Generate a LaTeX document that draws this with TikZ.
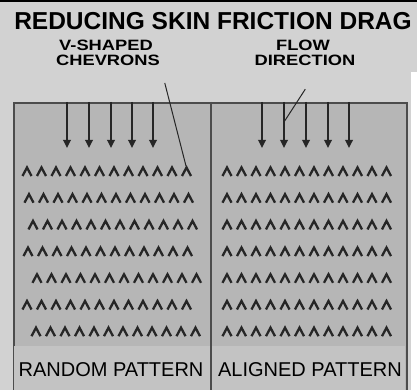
\documentclass[tikz,border=0pt]{standalone}
\usepackage{fontspec}
\setmainfont{Liberation Sans}
\newfontfamily\widefont[FakeStretch=1.22]{Liberation Sans}
\usetikzlibrary{arrows.meta}
\definecolor{paper}{HTML}{D2D2D2}
\definecolor{panel}{HTML}{B6B6B6}
\definecolor{ink}{HTML}{262626}

\begin{document}
\begin{tikzpicture}[
x=1pt,y=-1pt,
flowarrow/.style={ink,line width=1.7pt,-{Triangle[width=7.5pt,length=8pt]}},
chevron/.style={ink,line width=2.3pt,line join=miter,line cap=butt},
leader/.style={ink,line width=1pt},
labelfont/.style={inner sep=0.5pt,font=\widefont\bfseries\fontsize{15}{16}\selectfont},
panelfont/.style={font=\fontsize{20}{22}\selectfont}
]

\useasboundingbox (0,0) rectangle (417,390);
\clip (0,0) rectangle (417,390);

%%%%%%%%%%%%%%%%%%%%%%%%%%%%%%%%%%%%%%%%%%%%%%%%%%%%%%%%%%%%%%
% BACKGROUND
%%%%%%%%%%%%%%%%%%%%%%%%%%%%%%%%%%%%%%%%%%%%%%%%%%%%%%%%%%%%%%

\fill[paper] (0,0) rectangle (417,390);
\fill[white] (411,72) rectangle (417,390);
\fill[black] (0,0) rectangle (417,2.5);

%%%%%%%%%%%%%%%%%%%%%%%%%%%%%%%%%%%%%%%%%%%%%%%%%%%%%%%%%%%%%%
% TITLE AND LABELS
%%%%%%%%%%%%%%%%%%%%%%%%%%%%%%%%%%%%%%%%%%%%%%%%%%%%%%%%%%%%%%

\node[font=\bfseries\fontsize{24.5}{26}\selectfont]
(title) at (213,21)
{REDUCING SKIN FRICTION DRAG};

\node[labelfont] (shapelabel) at (106,45) {V-SHAPED};
\node[labelfont] (chevlabel) at (108,60.5) {CHEVRONS};

\node[labelfont] (flowlabel) at (303,45) {FLOW};
\node[labelfont] (dirlabel) at (305,60.5) {DIRECTION};

%%%%%%%%%%%%%%%%%%%%%%%%%%%%%%%%%%%%%%%%%%%%%%%%%%%%%%%%%%%%%%
% SURFACE PANELS
%%%%%%%%%%%%%%%%%%%%%%%%%%%%%%%%%%%%%%%%%%%%%%%%%%%%%%%%%%%%%%

\node[
draw=black!70,
line width=2pt,
fill=panel,
inner sep=0pt,
minimum width=393pt,
minimum height=300pt,
anchor=north west
](board)
at (13,102)
{};

\fill[panel!55!paper] (14,346) rectangle (405,390);

\draw[black!70,line width=2pt] (board.north) -- (board.south);

\node[panelfont] (randomlabel) at (111,370) {RANDOM PATTERN};
\node[panelfont] (alignedlabel) at (310,370) {ALIGNED PATTERN};

%%%%%%%%%%%%%%%%%%%%%%%%%%%%%%%%%%%%%%%%%%%%%%%%%%%%%%%%%%%%%%
% FLOW ARROWS
%%%%%%%%%%%%%%%%%%%%%%%%%%%%%%%%%%%%%%%%%%%%%%%%%%%%%%%%%%%%%%

\foreach \ax in {54,76,98,119,140,249,271,293,315,336}
\draw[flowarrow] ([xshift=\ax pt]board.north west) -- ++(0,46);

%%%%%%%%%%%%%%%%%%%%%%%%%%%%%%%%%%%%%%%%%%%%%%%%%%%%%%%%%%%%%%
% CHEVRONS
%%%%%%%%%%%%%%%%%%%%%%%%%%%%%%%%%%%%%%%%%%%%%%%%%%%%%%%%%%%%%%

% random pattern: every row shifted
\foreach \row/\start in {0/27,1/29,2/33,3/28,4/37,5/27,6/36}
\foreach \k in {0,...,11}
\draw[chevron] ({\start+14.5*\k-4.5},{172+26.7*\row+4}) -- ++(4.5,-8.5) -- ++(4.5,8.5);

% aligned pattern
\foreach \row in {0,...,6}
\foreach \k in {0,...,11}
\draw[chevron] ({227+14.5*\k-4.5},{172+26.7*\row+4}) -- ++(4.5,-8.5) -- ++(4.5,8.5);

%%%%%%%%%%%%%%%%%%%%%%%%%%%%%%%%%%%%%%%%%%%%%%%%%%%%%%%%%%%%%%
% LEADERS
%%%%%%%%%%%%%%%%%%%%%%%%%%%%%%%%%%%%%%%%%%%%%%%%%%%%%%%%%%%%%%

\coordinate (chevtip) at (186,166);
\coordinate (flowtip) at (284,122);

\draw[leader,shorten <=17pt] (chevlabel.south east) -- (chevtip);
\draw[leader,shorten <=27pt] ([xshift=15pt]dirlabel.south) -- (flowtip);

\end{tikzpicture}
\end{document}
